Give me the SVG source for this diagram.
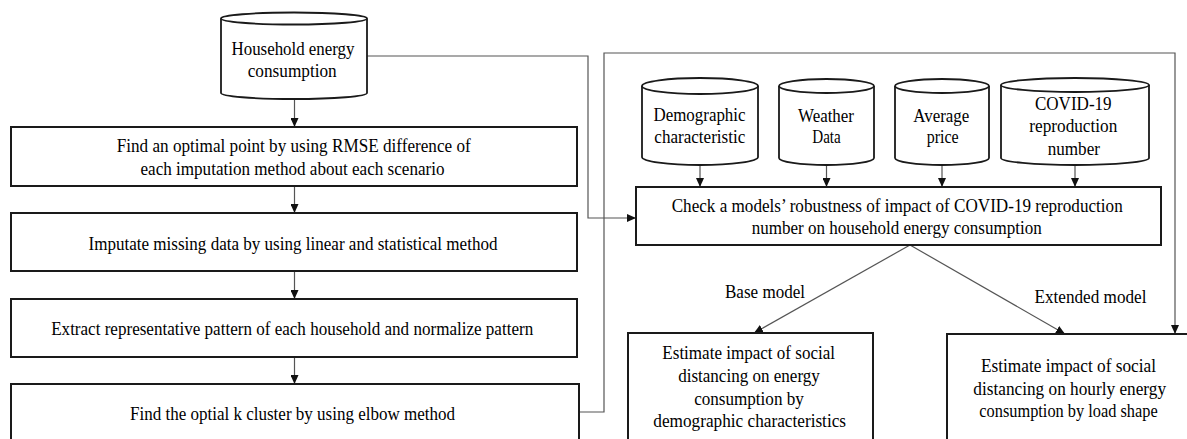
<svg xmlns="http://www.w3.org/2000/svg" width="1187" height="439" viewBox="0 0 1187 439">
<defs>
<style>
.box{fill:#fff;stroke:#1a1a1a;stroke-width:2}
.cyl{fill:#fff;stroke:#1a1a1a;stroke-width:1.8}
.con{fill:none;stroke:#555;stroke-width:1.2}
text{font-family:'Liberation Serif','Times New Roman',Times,serif;font-size:18px;fill:#000;text-anchor:middle}
</style>
<marker id="ah" markerWidth="9" markerHeight="8" refX="9" refY="4" orient="auto" markerUnits="userSpaceOnUse">
<path d="M0,0 L9,4 L0,8 z" fill="#111"/>
</marker>
</defs>
<rect width="1187" height="439" fill="#fff"/>

<g id="connectors">
<line class="con" x1="294.5" y1="99" x2="294.5" y2="127" marker-end="url(#ah)"/>
<line class="con" x1="294.5" y1="186" x2="294.5" y2="213" marker-end="url(#ah)"/>
<line class="con" x1="294.5" y1="271" x2="294.5" y2="299" marker-end="url(#ah)"/>
<line class="con" x1="294.5" y1="357" x2="294.5" y2="384" marker-end="url(#ah)"/>
<polyline class="con" points="367,56 588,56 588,218 636,218" marker-end="url(#ah)"/>
<polyline class="con" points="579,412 604,412 604,53 1175,53 1175,334" marker-end="url(#ah)"/>
<line class="con" x1="700" y1="165" x2="700" y2="187" marker-end="url(#ah)"/>
<line class="con" x1="826.5" y1="165" x2="826.5" y2="187" marker-end="url(#ah)"/>
<line class="con" x1="942" y1="165" x2="942" y2="187" marker-end="url(#ah)"/>
<line class="con" x1="1075" y1="165" x2="1075" y2="187" marker-end="url(#ah)"/>
<line class="con" x1="910" y1="245" x2="754" y2="333" marker-end="url(#ah)"/>
<line class="con" x1="910" y1="245" x2="1065" y2="334" marker-end="url(#ah)"/>
<text x="765" y="298" textLength="80" lengthAdjust="spacingAndGlyphs">Base model</text>
<text x="1090.5" y="302.5" textLength="112" lengthAdjust="spacingAndGlyphs">Extended model</text>
</g>

<g id="household">
<path class="cyl" d="M221,18.5 L221,93 A73,6 0 0 0 367,93 L367,18.5"/>
<ellipse class="cyl" cx="294" cy="18.5" rx="73" ry="6"/>
<text x="293" y="55" textLength="123" lengthAdjust="spacingAndGlyphs">Household energy</text>
<text x="292.2" y="77" textLength="89" lengthAdjust="spacingAndGlyphs">consumption</text>
</g>

<g id="step1">
<rect class="box" x="11" y="127" width="566" height="59"/>
<text x="293.7" y="152" textLength="354" lengthAdjust="spacingAndGlyphs">Find an optimal point by using RMSE difference of</text>
<text x="292.5" y="175" textLength="304" lengthAdjust="spacingAndGlyphs">each imputation method about each scenario</text>
</g>
<g id="step2">
<rect class="box" x="11" y="213" width="566" height="58"/>
<text x="293" y="250" textLength="409" lengthAdjust="spacingAndGlyphs">Imputate missing data by using linear and statistical method</text>
</g>
<g id="step3">
<rect class="box" x="11" y="299" width="566" height="58"/>
<text x="292.2" y="335" textLength="482" lengthAdjust="spacingAndGlyphs">Extract representative pattern of each household and normalize pattern</text>
</g>
<g id="step4">
<rect class="box" x="11" y="384" width="568" height="70"/>
<text x="292.5" y="420" textLength="325" lengthAdjust="spacingAndGlyphs">Find the optial k cluster by using elbow method</text>
</g>

<g id="demographic">
<path class="cyl" d="M642,86 L642,157 A58,8 0 0 0 758,157 L758,86"/>
<ellipse class="cyl" cx="700" cy="86" rx="58" ry="8"/>
<text x="699.5" y="121" textLength="92" lengthAdjust="spacingAndGlyphs">Demographic</text>
<text x="699.8" y="143" textLength="91" lengthAdjust="spacingAndGlyphs">characteristic</text>
</g>
<g id="weather">
<path class="cyl" d="M779,86 L779,158 A47.5,7 0 0 0 874,158 L874,86"/>
<ellipse class="cyl" cx="826.5" cy="86" rx="47.5" ry="7"/>
<text x="826" y="121.5" textLength="56" lengthAdjust="spacingAndGlyphs">Weather</text>
<text x="826.5" y="143" textLength="28.5" lengthAdjust="spacingAndGlyphs">Data</text>
</g>
<g id="price">
<path class="cyl" d="M895,86 L895,158 A47,7 0 0 0 989,158 L989,86"/>
<ellipse class="cyl" cx="942" cy="86" rx="47" ry="7"/>
<text x="941.3" y="121.5" textLength="56" lengthAdjust="spacingAndGlyphs">Average</text>
<text x="942.7" y="143" textLength="32" lengthAdjust="spacingAndGlyphs">price</text>
</g>
<g id="covid">
<path class="cyl" d="M1001,85 L1001,158 A74,7 0 0 0 1149,158 L1149,85"/>
<ellipse class="cyl" cx="1075" cy="85" rx="74" ry="7"/>
<text x="1073.3" y="110" textLength="76.7" lengthAdjust="spacingAndGlyphs">COVID-19</text>
<text x="1073.3" y="132" textLength="88" lengthAdjust="spacingAndGlyphs">reproduction</text>
<text x="1073.8" y="155" textLength="52.3" lengthAdjust="spacingAndGlyphs">number</text>
</g>

<g id="check">
<rect class="box" x="636" y="187" width="525" height="58"/>
<text x="897.2" y="211.7" textLength="451" lengthAdjust="spacingAndGlyphs">Check a models’ robustness of impact of COVID-19 reproduction</text>
<text x="896.7" y="234" textLength="290" lengthAdjust="spacingAndGlyphs">number on household energy consumption</text>
</g>

<g id="estimate-base">
<rect class="box" x="628" y="333" width="245" height="120"/>
<text x="748.7" y="359.3" textLength="172.7" lengthAdjust="spacingAndGlyphs">Estimate impact of social</text>
<text x="749" y="381.7" textLength="141.7" lengthAdjust="spacingAndGlyphs">distancing on energy</text>
<text x="749" y="405" textLength="109.7" lengthAdjust="spacingAndGlyphs">consumption by</text>
<text x="749.7" y="427.3" textLength="192.7" lengthAdjust="spacingAndGlyphs">demographic characteristics</text>
</g>

<g id="estimate-extended">
<rect class="box" x="947" y="334" width="243" height="120"/>
<text x="1068.5" y="371.7" textLength="175" lengthAdjust="spacingAndGlyphs">Estimate impact of social</text>
<text x="1069.7" y="395" textLength="192.7" lengthAdjust="spacingAndGlyphs">distancing on hourly energy</text>
<text x="1068.5" y="416.7" textLength="178.3" lengthAdjust="spacingAndGlyphs">consumption by load shape</text>
</g>
</svg>
